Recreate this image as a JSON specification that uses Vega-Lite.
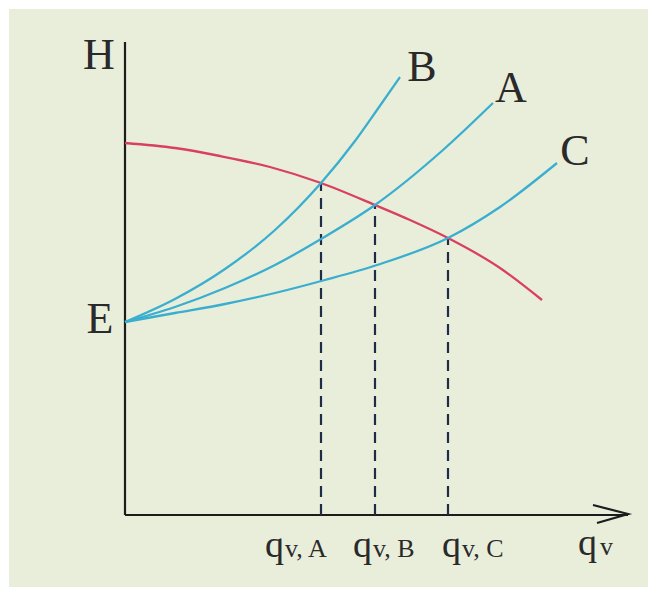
{
  "$schema": "https://vega.github.io/schema/vega-lite/v6.json",
  "width": 648,
  "height": 589,
  "autosize": {"type": "fit", "contains": "padding"},
  "padding": 0,
  "background": "white",
  "config": {"view": {"stroke": null}},
  "datasets": {
    "panel": [{"x": -116, "x2": 523, "y": -72, "y2": 506}],
    "axes": [
      {"qv": 0, "H": 0, "qv2": 0, "H2": 473},
      {"qv": 0, "H": 0, "qv2": 503, "H2": 0}
    ],
    "arrow": [
      {"ord": 1, "qv": 468, "H": 10},
      {"ord": 2, "qv": 503, "H": 1},
      {"ord": 3, "qv": 472, "H": -8}
    ],
    "dashed": [
      {"qv": 196, "H": 332, "H0": 0},
      {"qv": 250, "H": 310, "H0": 0},
      {"qv": 323, "H": 277, "H0": 0}
    ],
    "curves": [
      {"curve": "pump", "qv": 0, "H": 372},
      {"curve": "pump", "qv": 50, "H": 367},
      {"curve": "pump", "qv": 95, "H": 359},
      {"curve": "pump", "qv": 145, "H": 348},
      {"curve": "pump", "qv": 196, "H": 332},
      {"curve": "pump", "qv": 250, "H": 310},
      {"curve": "pump", "qv": 285, "H": 295},
      {"curve": "pump", "qv": 323, "H": 277},
      {"curve": "pump", "qv": 375, "H": 247},
      {"curve": "pump", "qv": 417, "H": 215},
      {"curve": "B", "qv": 0, "H": 193},
      {"curve": "B", "qv": 50, "H": 216},
      {"curve": "B", "qv": 100, "H": 246},
      {"curve": "B", "qv": 150, "H": 285},
      {"curve": "B", "qv": 196, "H": 332},
      {"curve": "B", "qv": 230, "H": 374},
      {"curve": "B", "qv": 252, "H": 405},
      {"curve": "B", "qv": 275, "H": 438},
      {"curve": "A", "qv": 0, "H": 193},
      {"curve": "A", "qv": 50, "H": 208},
      {"curve": "A", "qv": 100, "H": 227},
      {"curve": "A", "qv": 150, "H": 250},
      {"curve": "A", "qv": 196, "H": 276},
      {"curve": "A", "qv": 250, "H": 310},
      {"curve": "A", "qv": 318, "H": 365},
      {"curve": "A", "qv": 368, "H": 412},
      {"curve": "C", "qv": 0, "H": 193},
      {"curve": "C", "qv": 50, "H": 202},
      {"curve": "C", "qv": 100, "H": 211},
      {"curve": "C", "qv": 150, "H": 222},
      {"curve": "C", "qv": 200, "H": 235},
      {"curve": "C", "qv": 252, "H": 250},
      {"curve": "C", "qv": 323, "H": 277},
      {"curve": "C", "qv": 375, "H": 308},
      {"curve": "C", "qv": 432, "H": 352}
    ],
    "letters": [
      {"t": "H", "qv": -26, "H": 459},
      {"t": "E", "qv": -25, "H": 195},
      {"t": "B", "qv": 297, "H": 447},
      {"t": "A", "qv": 386, "H": 426},
      {"t": "C", "qv": 450, "H": 363}
    ],
    "qmain": [
      {"t": "q", "qv": 140, "H": -42},
      {"t": "q", "qv": 228, "H": -42},
      {"t": "q", "qv": 317, "H": -42},
      {"t": "q", "qv": 453, "H": -40}
    ],
    "qsub": [
      {"t": "v, A", "qv": 160, "H": -42},
      {"t": "v, B", "qv": 248, "H": -42},
      {"t": "v, C", "qv": 337, "H": -42},
      {"t": "v", "qv": 475, "H": -40}
    ]
  },
  "layer": [
    {
      "data": {"name": "panel"},
      "mark": {"type": "rect", "color": "#e9eedb"},
      "encoding": {
        "x": {"field": "x", "type": "quantitative", "axis": null, "scale": {"domain": [-125, 523], "nice": false, "zero": false}},
        "x2": {"field": "x2"},
        "y": {"field": "y", "type": "quantitative", "axis": null, "scale": {"domain": [-74, 515], "nice": false, "zero": false}},
        "y2": {"field": "y2"}
      }
    },
    {
      "data": {"name": "axes"},
      "mark": {"type": "rule", "color": "#1c1c1c", "strokeWidth": 2.2},
      "encoding": {
        "x": {"field": "qv", "type": "quantitative", "axis": null},
        "x2": {"field": "qv2"},
        "y": {"field": "H", "type": "quantitative", "axis": null},
        "y2": {"field": "H2"}
      }
    },
    {
      "data": {"name": "arrow"},
      "mark": {"type": "line", "color": "#1c1c1c", "strokeWidth": 2.2},
      "encoding": {
        "x": {"field": "qv", "type": "quantitative", "axis": null},
        "y": {"field": "H", "type": "quantitative", "axis": null},
        "order": {"field": "ord", "type": "quantitative"}
      }
    },
    {
      "data": {"name": "dashed"},
      "mark": {"type": "rule", "color": "#1f2c48", "strokeWidth": 2.2, "strokeDash": [11, 7]},
      "encoding": {
        "x": {"field": "qv", "type": "quantitative", "axis": null},
        "y": {"field": "H0", "type": "quantitative", "axis": null},
        "y2": {"field": "H"}
      }
    },
    {
      "data": {"name": "curves"},
      "mark": {"type": "line", "interpolate": "monotone", "strokeWidth": 2.3},
      "encoding": {
        "x": {"field": "qv", "type": "quantitative", "axis": null},
        "y": {"field": "H", "type": "quantitative", "axis": null},
        "detail": {"field": "curve", "type": "nominal"},
        "color": {"field": "curve", "type": "nominal", "legend": null,
          "scale": {"domain": ["pump", "A", "B", "C"], "range": ["#d9405f", "#3aaecf", "#3aaecf", "#3aaecf"]}}
      }
    },
    {
      "data": {"name": "letters"},
      "mark": {"type": "text", "font": "Liberation Serif", "fontSize": 44, "color": "#2a2a2a", "align": "center", "baseline": "middle"},
      "encoding": {
        "x": {"field": "qv", "type": "quantitative", "axis": null},
        "y": {"field": "H", "type": "quantitative", "axis": null},
        "text": {"field": "t", "type": "nominal"}
      }
    },
    {
      "data": {"name": "qmain"},
      "mark": {"type": "text", "font": "Liberation Serif", "fontSize": 38, "color": "#2a2a2a", "align": "left", "baseline": "alphabetic"},
      "encoding": {
        "x": {"field": "qv", "type": "quantitative", "axis": null},
        "y": {"field": "H", "type": "quantitative", "axis": null},
        "text": {"field": "t", "type": "nominal"}
      }
    },
    {
      "data": {"name": "qsub"},
      "mark": {"type": "text", "font": "Liberation Serif", "fontSize": 26, "color": "#2a2a2a", "align": "left", "baseline": "alphabetic"},
      "encoding": {
        "x": {"field": "qv", "type": "quantitative", "axis": null},
        "y": {"field": "H", "type": "quantitative", "axis": null},
        "text": {"field": "t", "type": "nominal"}
      }
    }
  ]
}
